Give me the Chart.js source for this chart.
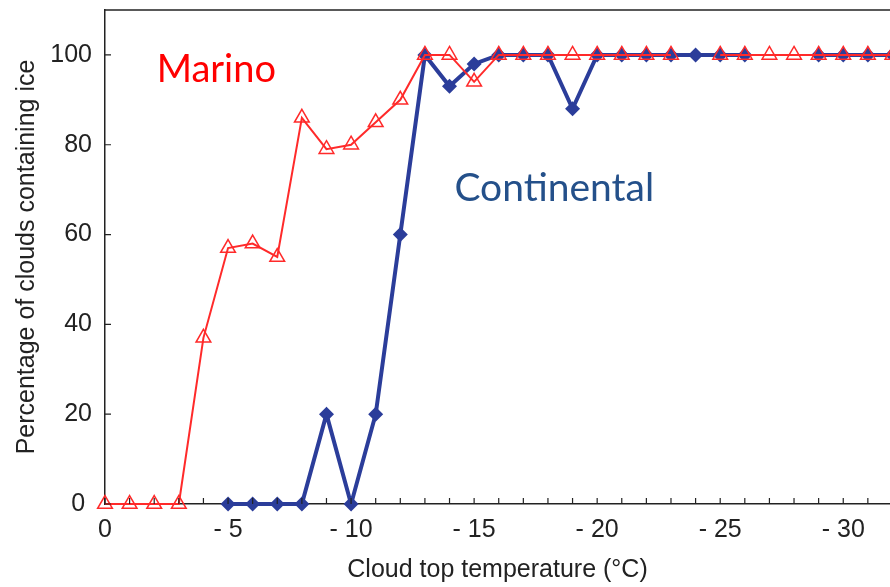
<!DOCTYPE html>
<html>
<head>
<meta charset="utf-8">
<script src="https://cdn.jsdelivr.net/npm/chart.js@4/dist/chart.umd.min.js"></script>
<style>
  html, body { margin: 0; padding: 0; background: #fff; }
  #chart { display: block; }
</style>
</head>
<body>
<canvas id="chart" width="890" height="587"></canvas>
<script>
// cloud top temperature (degC), one reading per degree
var temps = [0, -1, -2, -3, -4, -5, -6, -7, -8, -9, -10, -11, -12, -13, -14, -15, -16,
	-17, -18, -19, -20, -21, -22, -23, -24, -25, -26, -27, -28, -29, -30, -31, -32]

// percentage of clouds containing ice
var marino = [0, 0, 0, 0, 37, 57, 58, 55, 86, 79, 80, 85, 90, 100, 100, 94, 100,
	100, 100, 100, 100, 100, 100, 100, null, 100, 100, 100, 100, 100, 100, 100, 100]
var continental = [null, null, null, null, null, 0, 0, 0, 0, 20, 0, 20, 60, 100, 93, 98, 100,
	100, 100, 88, 100, 100, 100, 100, 100, 100, 100, null, null, 100, 100, 100, 100]

var yTickValues = [0, 20, 40, 60, 80, 100]
var xLabelValues = [0, -5, -10, -15, -20, -25, -30]

var seriesLabels = [
	{ text: 'Marino', x: -2.1, y: 96.7, color: '#ff0000' },
	{ text: 'Continental', x: -14.2, y: 70.2, color: '#24508a' }
]

function pts(values) {
	var out = []
	for (var i = 0; i < temps.length; i++) {
		out.push({ x: temps[i], y: values[i] })
	}
	return out
}

// top frame line, inward tick marks and the two series names
var frameAndLabels = {
	id: 'frameAndLabels',
	afterDraw: function (chart) {
		var ctx = chart.ctx
		var a = chart.chartArea
		var xs = chart.scales.x
		var ys = chart.scales.y
		ctx.save()
		ctx.strokeStyle = '#222'
		ctx.lineWidth = 1.5
		ctx.beginPath()
		ctx.moveTo(a.left, a.top)
		ctx.lineTo(a.right + 2, a.top)
		ctx.stroke()

		ctx.lineWidth = 1.2
		ctx.beginPath()
		for (var t = 0; t >= -32; t--) {
			var px = xs.getPixelForValue(t)
			if (px > a.right) continue
			ctx.moveTo(px, a.bottom)
			ctx.lineTo(px, a.bottom - 6)
		}
		yTickValues.forEach(function (v) {
			var py = ys.getPixelForValue(v)
			ctx.moveTo(a.left, py)
			ctx.lineTo(a.left + 6, py)
		})
		ctx.stroke()

		ctx.textBaseline = 'middle'
		ctx.textAlign = 'left'
		seriesLabels.forEach(function (l) {
			ctx.font = (l.text === 'Marino' ? 38 : 39) + 'px Lato, "Open Sans", sans-serif'
			ctx.fillStyle = l.color
			ctx.fillText(l.text, xs.getPixelForValue(l.x), ys.getPixelForValue(l.y))
		})
		ctx.restore()
	}
}

var tickFont = { family: '"Liberation Sans", Arial, sans-serif', size: 25 }

new Chart(document.getElementById('chart'), {
	type: 'line',
	data: {
		datasets: [{
			label: 'Marino',
			data: pts(marino),
			borderColor: '#ff2a2a',
			borderWidth: 2,
			pointStyle: 'triangle',
			pointRadius: 8.5,
			pointBorderWidth: 1.5,
			pointBorderColor: '#ff2a2a',
			pointBackgroundColor: 'rgba(255,255,255,0)',
			spanGaps: false,
			clip: false,
			tension: 0
		}, {
			label: 'Continental',
			data: pts(continental),
			borderColor: '#2b3d9a',
			borderWidth: 4,
			pointStyle: 'rectRot',
			pointRadius: 7.5,
			pointBorderWidth: 0,
			pointBackgroundColor: '#2b3d9a',
			spanGaps: false,
			clip: false,
			tension: 0
		}]
	},
	options: {
		responsive: false,
		animation: false,
		devicePixelRatio: 1,
		layout: { autoPadding: false, padding: { top: 10, right: 0, left: 0, bottom: 0 } },
		plugins: {
			legend: { display: false },
			tooltip: { enabled: false }
		},
		scales: {
			x: {
				type: 'linear',
				reverse: true,
				min: -31.9,
				max: 0,
				grid: { display: false },
				border: { display: true, color: '#222', width: 1.5 },
				afterBuildTicks: function (scale) {
					scale.ticks = xLabelValues.map(function (v) { return { value: v } })
				},
				afterFit: function (scale) {
					scale.height = 83
					scale.paddingLeft = 0
					scale.paddingRight = 0
				},
				ticks: {
					autoSkip: false,
					maxRotation: 0,
					padding: 3,
					color: '#222',
					font: tickFont,
					callback: function (v) { return v === 0 ? '0' : '- ' + Math.abs(v) }
				},
				title: {
					display: true,
					text: 'Cloud top temperature (°C)',
					color: '#222',
					font: tickFont,
					padding: { top: 0, bottom: 2 }
				}
			},
			y: {
				min: 0,
				max: 110,
				grid: { display: false },
				border: { display: true, color: '#222', width: 1.5 },
				afterBuildTicks: function (scale) {
					scale.ticks = yTickValues.map(function (v) { return { value: v } })
				},
				afterFit: function (scale) {
					scale.width = 105
					scale.paddingTop = 0
					scale.paddingBottom = 0
				},
				ticks: {
					padding: 5,
					color: '#222',
					font: tickFont,
					// the zero label sits a little left, clear of the x-axis zero
					callback: function (v) { return v === 0 ? '0 ' : String(v) }
				},
				title: {
					display: true,
					text: 'Percentage of clouds containing ice',
					color: '#222',
					font: tickFont,
					padding: { top: 12, bottom: 0 }
				}
			}
		}
	},
	plugins: [frameAndLabels]
})
</script>
</body>
</html>
